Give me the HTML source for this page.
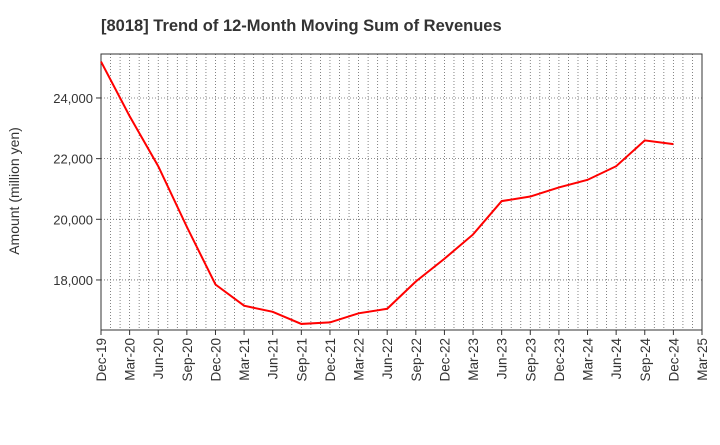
<!DOCTYPE html>
<html><head><meta charset="utf-8"><style>
body{margin:0;background:#fff;}
svg text{font-family:"Liberation Sans",Arial,sans-serif;}
</style></head><body>
<svg id="c" width="720" height="440" xmlns="http://www.w3.org/2000/svg">
<text x="101" y="31" font-size="16.5" font-weight="bold" fill="#333">[8018]  Trend of 12-Month Moving Sum of Revenues</text>
<text transform="translate(19,191) rotate(-90)" font-size="14" fill="#333" text-anchor="middle">Amount (million yen)</text>
<g id="grid"></g><g id="axes"></g><g id="series"></g>
</svg>
<script>
const categories=["Dec-19","Mar-20","Jun-20","Sep-20","Dec-20","Mar-21","Jun-21","Sep-21","Dec-21","Mar-22","Jun-22","Sep-22","Dec-22","Mar-23","Jun-23","Sep-23","Dec-23","Mar-24","Jun-24","Sep-24","Dec-24","Mar-25"];
const revenues=[25200,23400,21750,19750,17850,17150,16950,16550,16600,16900,17050,17950,18700,19500,20600,20750,21050,21300,21750,22600,22480];
const yTicks=[18000,20000,22000,24000];
const yTickLabels=["18,000","20,000","22,000","24,000"];
const NS="http://www.w3.org/2000/svg";
const L=101,R=702,T=54,B=330,yMin=16350,yMax=25450;
function xs(i){return L+(R-L)*i/(categories.length-1);}
function ys(v){return B-(v-yMin)/(yMax-yMin)*(B-T);}
function mk(p,tag,a){const e=document.createElementNS(NS,tag);for(const k in a)e.setAttribute(k,a[k]);p.appendChild(e);return e;}
const grid=document.getElementById('grid'),axes=document.getElementById('axes'),ser=document.getElementById('series');
const nMonths=(categories.length-1)*3;
for(let m=1;m<nMonths;m++){const x=L+(R-L)*m/nMonths;
const g=mk(grid,'line',{x1:x,x2:x,y1:T,y2:B,stroke:'#666','stroke-width':0.8,'stroke-dasharray':'1,2'});

}
yTicks.forEach((v,i)=>{const y=ys(v);
const g=mk(grid,'line',{x1:L,x2:R,y1:y,y2:y,stroke:'#666','stroke-width':0.8,'stroke-dasharray':'1,2'});


mk(axes,'line',{x1:L-5,x2:L,y1:y,y2:y,stroke:'#333'});
const t=mk(axes,'text',{x:L-8,y:y+5,'font-size':13,'text-anchor':'end',fill:'#333'});t.textContent=yTickLabels[i];

});
const fr=mk(axes,'rect',{x:L,y:T,width:R-L,height:B-T,fill:'none',stroke:'#333','stroke-width':1});


categories.forEach((c,i)=>{const x=xs(i);
mk(axes,'line',{x1:x,x2:x,y1:B,y2:B+5,stroke:'#333'});
const t=mk(axes,'text',{transform:`translate(${x+5},${B+8}) rotate(-90)`,'font-size':13.5,'text-anchor':'end',fill:'#333'});t.textContent=c;

});
const pl=mk(ser,'polyline',{points:revenues.map((v,i)=>xs(i)+','+ys(v)).join(' '),fill:'none',stroke:'#ff0000','stroke-width':2});


</script>
</body></html>
